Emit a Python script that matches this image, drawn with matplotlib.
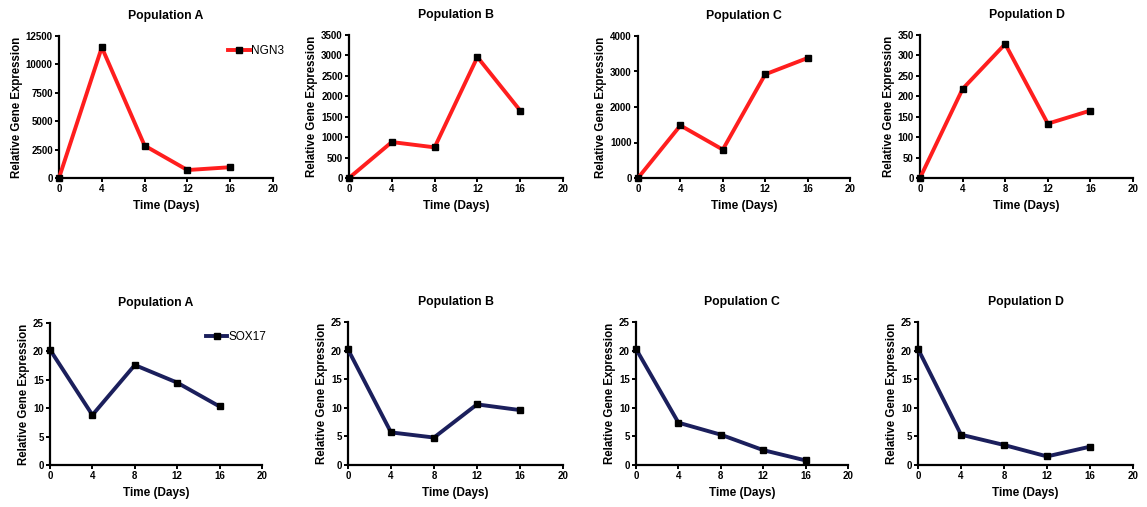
import matplotlib
matplotlib.use("Agg")
import matplotlib.pyplot as plt

plt.rcParams['font.family'] = ['Liberation Sans', 'DejaVu Sans']
plt.rcParams['font.weight'] = 'bold'

days = [0, 4, 8, 12, 16]
populations = ['Population A', 'Population B', 'Population C', 'Population D']

# NGN3 (top row)
ngn3_a = [0, 11500, 2850, 700, 950]
ngn3_b = [0, 880, 750, 2960, 1650]
ngn3_c = [0, 1480, 800, 2920, 3380]
ngn3_d = [0, 218, 328, 133, 165]

# SOX17 (bottom row)
sox17_a = [20.3, 8.8, 17.6, 14.5, 10.3]
sox17_b = [20.2, 5.7, 4.8, 10.6, 9.6]
sox17_c = [20.3, 7.4, 5.3, 2.6, 0.8]
sox17_d = [20.3, 5.3, 3.5, 1.5, 3.2]

ngn3_yticks = [
    [0, 2500, 5000, 7500, 10000, 12500],
    [0, 500, 1000, 1500, 2000, 2500, 3000, 3500],
    [0, 1000, 2000, 3000, 4000],
    [0, 50, 100, 150, 200, 250, 300, 350],
]
sox17_yticks = [0, 5, 10, 15, 20, 25]

fig = plt.figure(figsize=(11.47, 5.07), dpi=100)
W, H = 1147, 507

# axes boxes in pixels: (x0, x20, ybottom, ytop)
top_boxes = [(59, 273, 178, 36), (349, 563, 178, 35), (638, 850, 178, 36), (920, 1133, 178, 35)]
bot_boxes = [(50, 262, 465, 323), (348, 563, 465, 322), (636, 848, 465, 322), (918, 1133, 465, 322)]

red = '#ff1e1e'
navy = '#1b1f5c'


def style(ax):
    for s in ['top', 'right']:
        ax.spines[s].set_visible(False)
    for s in ['left', 'bottom']:
        ax.spines[s].set_linewidth(1.6)
    ax.tick_params(direction='out', length=3, width=1.4, labelsize=7, pad=1.5)
    for lab in ax.get_xticklabels() + ax.get_yticklabels():
        lab.set_fontweight('bold')
    ax.set_xlim(0, 20)
    ax.set_xticks([0, 4, 8, 12, 16, 20])
    ax.set_xlabel('Time (Days)', fontsize=8.5, fontweight='bold', labelpad=4)
    ax.set_ylabel('Relative Gene Expression', fontsize=8.3, fontweight='bold', labelpad=2)


def make_ax(box):
    x0, x1, yb, yt = box
    return fig.add_axes([x0 / W, 1 - yb / H, (x1 - x0) / W, (yb - yt) / H])


ngn3_all = [ngn3_a, ngn3_b, ngn3_c, ngn3_d]
for i, vals in enumerate(ngn3_all):
    ax = make_ax(top_boxes[i])
    ax.plot(days, vals, color=red, lw=2.8, marker='s', ms=5,
            mfc='black', mec='black', label='NGN3', clip_on=False, zorder=5)
    ax.set_ylim(0, ngn3_yticks[i][-1])
    ax.set_yticks(ngn3_yticks[i])
    style(ax)
    ax.set_title(populations[i], fontsize=8.8, fontweight='bold', pad=12)
    if i == 0:
        ax.legend(loc='upper right', bbox_to_anchor=(1.1, 1.01), frameon=False,
                  handlelength=1.8, handletextpad=0.1,
                  prop={'size': 8.5, 'weight': 'normal'})

sox17_all = [sox17_a, sox17_b, sox17_c, sox17_d]
for i, vals in enumerate(sox17_all):
    ax = make_ax(bot_boxes[i])
    ax.plot(days, vals, color=navy, lw=2.8, marker='s', ms=5,
            mfc='black', mec='black', label='SOX17', clip_on=False, zorder=5)
    ax.set_ylim(0, 25)
    ax.set_yticks(sox17_yticks)
    style(ax)
    ax.set_title(populations[i], fontsize=8.8, fontweight='bold', pad=12)
    if i == 0:
        ax.legend(loc='upper right', bbox_to_anchor=(1.07, 1.02), frameon=False,
                  handlelength=1.8, handletextpad=0.1,
                  prop={'size': 8.5, 'weight': 'normal'})

fig.savefig('out.png', dpi=100, facecolor='white')
